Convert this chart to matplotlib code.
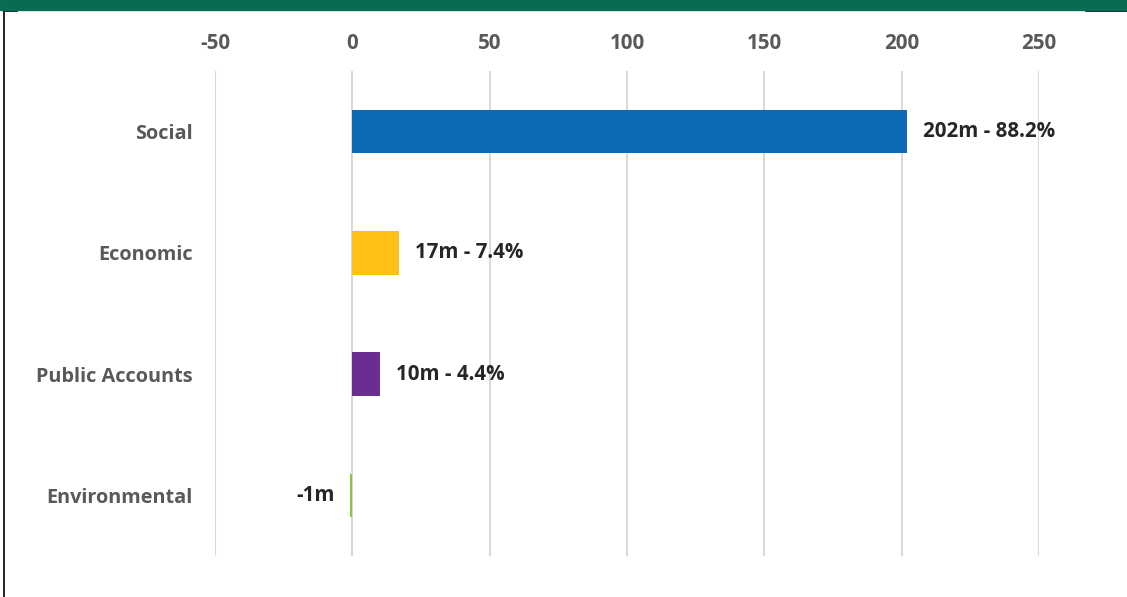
import matplotlib.pyplot as plt
from matplotlib.patches import Rectangle
from matplotlib.lines import Line2D

categories = ['Social', 'Economic', 'Public Accounts', 'Environmental']
values = [202, 17, 10, -1]
labels = ['202m - 88.2%', '17m - 7.4%', '10m - 4.4%', '-1m']
colors = ['#0b69b5', '#fec017', '#6b2d91', '#8cc63f']
xticks = [-50, 0, 50, 100, 150, 200, 250]

plt.rcParams['font.family'] = ['Open Sans', 'DejaVu Sans']

W, H = 1127, 597
fig = plt.figure(figsize=(W / 100, H / 100), dpi=100)
ax = fig.add_axes([215 / W, 1 - 556 / H, (1039 - 215) / W, (556 - 71) / H])

y = list(range(len(categories)))
ax.barh(y, values, height=0.36, color=colors, zorder=3)
ax.set_xlim(-50, 250)
ax.set_ylim(len(categories) - 0.5, -0.5)
ax.set_xticks(xticks)
ax.set_xticklabels([str(t) for t in xticks])
ax.xaxis.tick_top()
ax.tick_params(axis='x', length=0, pad=12, labelsize=14.8, labelcolor='#595959')
ax.tick_params(axis='y', length=0, pad=16, labelsize=14.3, labelcolor='#595959')
for lab in ax.get_xticklabels() + ax.get_yticklabels():
    lab.set_fontweight('bold')
ax.set_yticks(y)
ax.set_yticklabels(categories)
ax.grid(axis='x', color='#d9d9d9', linewidth=1.5, zorder=0)
for s in ax.spines.values():
    s.set_visible(False)

for yi, v, lab in zip(y, values, labels):
    if v >= 0:
        ax.annotate(lab, (v, yi), xytext=(11.5, 0), textcoords='offset points',
                    ha='left', va='center', fontsize=14.8, fontweight='bold', color='#262626')
    else:
        ax.annotate(lab, (v, yi), xytext=(-11, 0), textcoords='offset points',
                    ha='right', va='center', fontsize=14.8, fontweight='bold', color='#262626')

# frame decoration: green band and black border pieces
fig.patches.append(Rectangle((0, 1 - 10 / H), 1, 10 / H, transform=fig.transFigure,
                             color='#0a6b55', zorder=5))
fig.lines.append(Line2D([4 / W, 4 / W], [0, 1 - 10 / H], transform=fig.transFigure,
                        color='black', linewidth=1.2))
fig.lines.append(Line2D([4 / W, 17 / W], [1 - 10.5 / H, 1 - 10.5 / H], transform=fig.transFigure,
                        color='black', linewidth=1.2))
fig.lines.append(Line2D([1086 / W, 1], [1 - 10.5 / H, 1 - 10.5 / H], transform=fig.transFigure,
                        color='black', linewidth=1.2))

fig.savefig('out.png', dpi=100)
